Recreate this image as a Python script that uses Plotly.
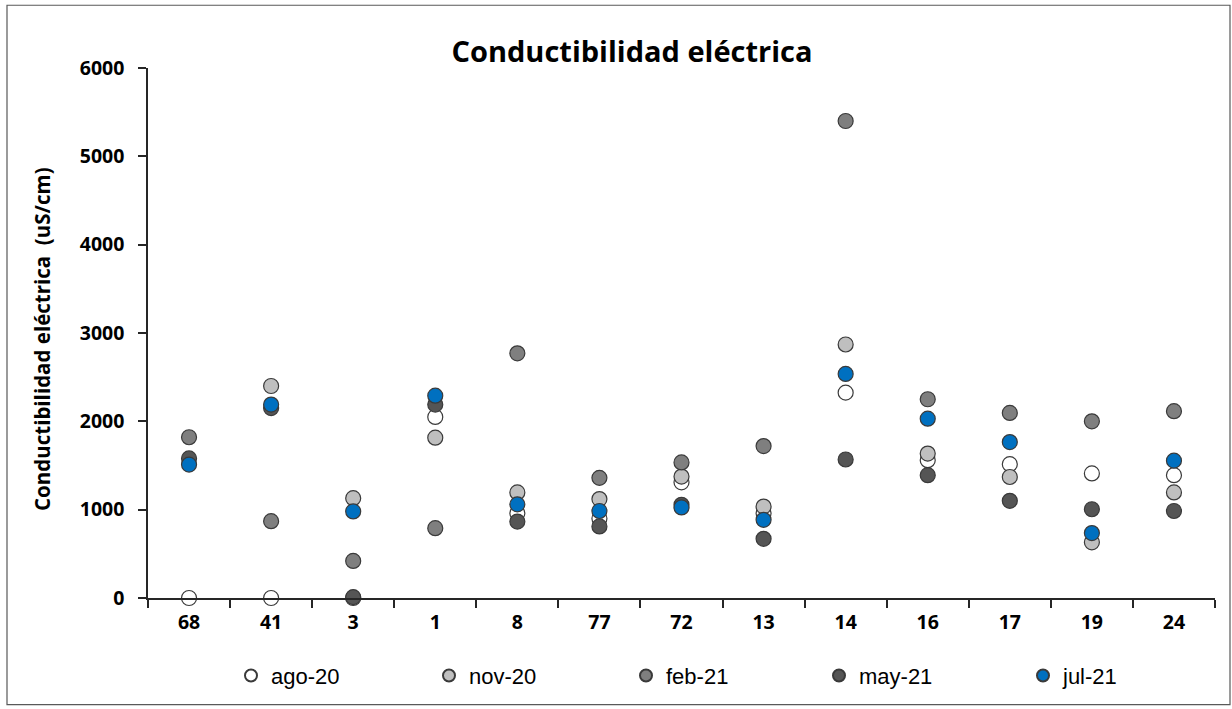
import plotly.graph_objects as go

categories = ["68", "41", "3", "1", "8", "77", "72", "13", "14", "16", "17", "19", "24"]
ago_20 = [0, 0, 0, 2050, 960, 900, 1310, 960, 2325, 1560, 1515, 1410, 1390]
nov_20 = [None, 2400, 1130, 1815, 1195, 1120, 1375, 1035, 2870, 1635, 1370, 630, 1195]
feb_21 = [1820, 870, 420, 790, 2770, 1360, 1535, 1720, 5400, 2250, 2095, 2000, 2115]
may_21 = [1580, 2150, 10, 2190, 865, 810, 1055, 670, 1568, 1390, 1100, 1005, 985]
jul_21 = [1510, 2190, 980, 2290, 1060, 985, 1025, 885, 2537, 2030, 1765, 735, 1555]
y_ticks = [0, 1000, 2000, 3000, 4000, 5000, 6000]

series = [
    ("ago-20", ago_20, "#FFFFFF"),
    ("nov-20", nov_20, "#BFBFBF"),
    ("feb-21", feb_21, "#7F7F7F"),
    ("may-21", may_21, "#555555"),
    ("jul-21", jul_21, "#0070C0"),
]

W, H = 1232, 709
L, R, T, B = 148, 1215, 68, 600
pw, ph = R - L, B - T

legend_left_px = [231, 429, 626, 819, 1023]
legend_y_px = 678

fig = go.Figure()
layout_legends = {}
for i, (name, vals, col) in enumerate(series):
    lg = "legend" if i == 0 else "legend%d" % (i + 1)
    fig.add_trace(go.Scatter(
        x=categories, y=vals, mode="markers", name=name, legend=lg,
        marker=dict(size=15, color=col, line=dict(color="#3A3A3A", width=1.2)),
        cliponaxis=False,
    ))
    layout_legends[lg] = dict(
        x=(legend_left_px[i] - L) / pw, xanchor="left",
        y=(B - legend_y_px) / ph, yanchor="middle",
        orientation="h", itemsizing="constant", itemwidth=30,
        bgcolor="rgba(0,0,0,0)", borderwidth=0,
        font=dict(family="Liberation Sans, Arial, sans-serif", size=22, color="#000"),
    )

fig.update_layout(
    width=W, height=H,
    margin=dict(l=L, r=W - R, t=T, b=H - B),
    paper_bgcolor="white", plot_bgcolor="white",
    font=dict(family="Open Sans, sans-serif", color="#000000"),
    title=dict(text="<b>Conductibilidad eléctrica</b>", x=632 / W, xanchor="center",
               y=1 - 52 / H, yanchor="middle", yref="container",
               font=dict(family="Open Sans, sans-serif", size=29, color="#000")),
    xaxis=dict(type="category", categoryorder="array", categoryarray=categories,
               tickvals=categories, ticktext=["<b>%s</b>" % c for c in categories],
               showline=True, linecolor="#262626", linewidth=1.5,
               ticks="outside", tickson="boundaries", ticklen=8, tickcolor="#262626", tickwidth=1.5,
               ticklabelstandoff=6,
               showgrid=False, zeroline=False,
               tickfont=dict(family="Open Sans, sans-serif", size=19.5, color="#000"),
               range=[-0.5, len(categories) - 0.5]),
    yaxis=dict(range=[0, 6000], tickvals=y_ticks,
               ticktext=["<b>%d</b>" % v for v in y_ticks],
               showline=True, linecolor="#262626", linewidth=1.5,
               ticks="outside", ticklen=8, tickcolor="#262626", tickwidth=1.5,
               ticklabelstandoff=10,
               showgrid=False, zeroline=False,
               tickfont=dict(family="Open Sans, sans-serif", size=19.5, color="#000")),
    showlegend=True,
    **layout_legends,
)

fig.add_annotation(text="<b>Conductibilidad eléctrica  (uS/cm)</b>", xref="paper", yref="paper",
                   x=(42 - L) / pw, y=(B - 340) / ph, textangle=-90, showarrow=False,
                   xanchor="center", yanchor="middle",
                   font=dict(family="Open Sans, sans-serif", size=20.5, color="#000"))

fig.add_shape(type="rect", xref="paper", yref="paper",
              x0=(7 - L) / pw, x1=(1230 - L) / pw, y0=(B - 707) / ph, y1=(B - 5) / ph,
              line=dict(color="#595959", width=1.2), fillcolor="rgba(0,0,0,0)", layer="below")

fig.write_html("out.html")
